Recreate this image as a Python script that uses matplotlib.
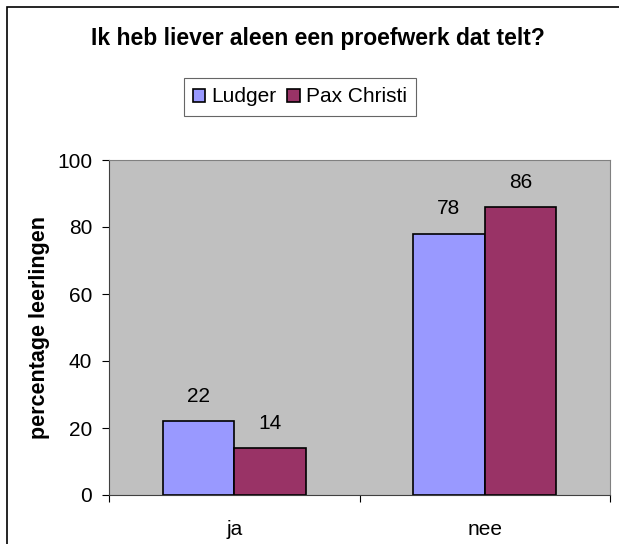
import matplotlib.pyplot as plt
import numpy as np

plt.rcParams['font.family'] = ['Liberation Sans', 'DejaVu Sans']

# Data
categories = ['ja', 'nee']
ludger = [22, 78]
pax_christi = [14, 86]
series_names = ['Ludger', 'Pax Christi']

fig = plt.figure(figsize=(6.19, 5.44), dpi=100)
# outer chart border (right and bottom edges fall outside the picture)
fig.patches.append(plt.Rectangle((7 / 619, -0.1), 1.2, 1 - 7 / 544 + 0.1,
                                 transform=fig.transFigure, fill=False,
                                 edgecolor='black', linewidth=1.2))

ax = fig.add_axes([109 / 619, 49 / 544, 501 / 619, 335 / 544])
ax.set_facecolor('#C0C0C0')

x = np.arange(len(categories))
w = 1 / 3.5
b1 = ax.bar(x - w / 2, ludger, w, color='#9999FF', edgecolor='black',
            linewidth=1.2, label=series_names[0])
b2 = ax.bar(x + w / 2, pax_christi, w, color='#993366', edgecolor='black',
            linewidth=1.2, label=series_names[1])
for bars, vals in [(b1, ludger), (b2, pax_christi)]:
    for rect, v in zip(bars, vals):
        ax.annotate(str(v), (rect.get_x() + rect.get_width() / 2, v),
                    xytext=(0, 11), textcoords='offset points',
                    ha='center', va='bottom', fontsize=15)

ax.set_xlim(-0.5, 1.5)
ax.set_ylim(0, 100)
ax.set_yticks(np.arange(0, 101, 20))
ax.tick_params(axis='y', labelsize=15, length=5, direction='out', pad=7)
ax.set_xticks([-0.5, 0.5, 1.5])
ax.set_xticklabels([])
ax.set_xticks(x, minor=True)
ax.set_xticklabels(categories, minor=True, fontsize=15)
ax.tick_params(axis='x', which='major', length=5, direction='out')
ax.tick_params(axis='x', which='minor', length=0, pad=18)

for s in ['top', 'right']:
    ax.spines[s].set_color('#808080')
for s in ['left', 'bottom']:
    ax.spines[s].set_color('#404040')

ax.set_ylabel('percentage leerlingen', fontsize=15.5, fontweight='bold', labelpad=5)

fig.text(318 / 619, 1 - 38 / 544, 'Ik heb liever aleen een proefwerk dat telt?',
         ha='center', va='center', fontsize=16.5, fontweight='bold')

leg = fig.legend(loc='center', bbox_to_anchor=(300 / 619, 1 - 97 / 544),
                 ncol=2, fontsize=15, frameon=True, fancybox=False,
                 edgecolor='#404040', handlelength=0.6, handleheight=0.6,
                 handletextpad=0.3, columnspacing=0.5, borderpad=0.45,
                 borderaxespad=0)
leg.get_frame().set_linewidth(0.8)

plt.savefig('out.png', dpi=100)
